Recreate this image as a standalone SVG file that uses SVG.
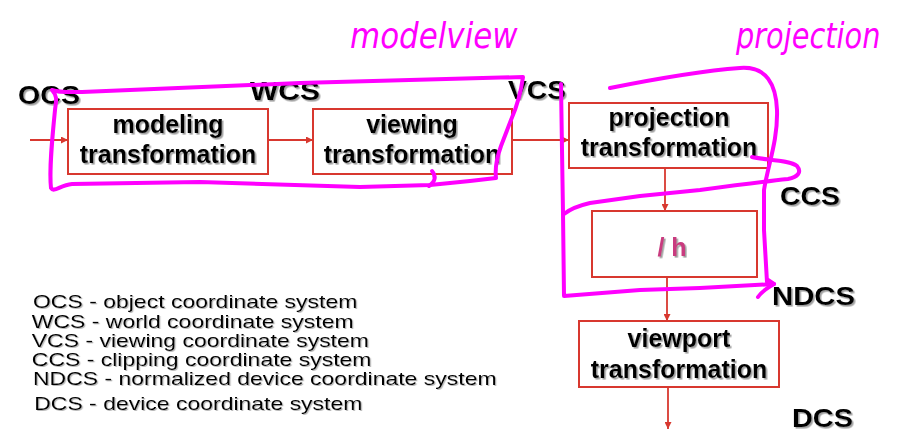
<svg xmlns="http://www.w3.org/2000/svg" width="905" height="432" viewBox="0 0 905 432">
<style>
.box{fill:#fff;stroke:#d8382f;stroke-width:2}
.bt{font-family:"Liberation Sans",Arial,sans-serif;font-weight:bold;font-size:25px;fill:#000;text-anchor:middle;filter:url(#sh)}
.lab{font-family:"Liberation Sans",Arial,sans-serif;font-weight:bold;font-size:25px;fill:#000;filter:url(#sh)}
.leg{font-family:"Liberation Sans",Arial,sans-serif;font-size:19px;fill:#000;filter:url(#sh2)}
.con{stroke:#d8382f;stroke-width:1.8;fill:none;marker-end:url(#ah)}
.mg{stroke:#ff00ff;stroke-width:4;fill:none;stroke-linecap:round;stroke-linejoin:round}
.hw{font-family:"DejaVu Sans",sans-serif;font-style:italic;font-size:36px;fill:#ff00ff}
</style>
<defs>
<filter id="sh" x="-10%" y="-20%" width="130%" height="150%">
<feDropShadow dx="1.6" dy="1.6" stdDeviation="0.7" flood-color="#777" flood-opacity="0.7"/>
</filter>
<filter id="sh2" x="-5%" y="-20%" width="120%" height="150%">
<feDropShadow dx="1" dy="1" stdDeviation="0.6" flood-color="#888" flood-opacity="0.6"/>
</filter>
<marker id="ah" viewBox="0 0 10 10" refX="10" refY="5" markerWidth="8" markerHeight="7" markerUnits="userSpaceOnUse" orient="auto">
<path d="M0,0 L10,5 L0,10 Z" fill="#d8382f"/>
</marker>
</defs>
<rect width="905" height="432" fill="#fff"/>

<g id="connectors">
<line class="con" x1="30" y1="140" x2="68" y2="140"/>
<line class="con" x1="268" y1="140" x2="313" y2="140"/>
<line class="con" x1="512" y1="140" x2="569" y2="140"/>
<line class="con" x1="665" y1="168" x2="665" y2="211"/>
<line class="con" x1="667" y1="277" x2="667" y2="321"/>
<line class="con" x1="668" y1="387" x2="668" y2="429"/>
</g>

<g id="modeling">
<rect class="box" x="68" y="109" width="200" height="65"/>
<text class="bt" x="168" y="133">modeling</text>
<text class="bt" x="168" y="163">transformation</text>
</g>
<g id="viewing">
<rect class="box" x="313" y="109" width="199" height="65"/>
<text class="bt" x="412" y="133">viewing</text>
<text class="bt" x="412" y="163">transformation</text>
</g>
<g id="projection">
<rect class="box" x="569" y="103" width="199" height="65"/>
<text class="bt" x="669" y="126">projection</text>
<text class="bt" x="669" y="156">transformation</text>
</g>
<g id="divh">
<rect class="box" x="592" y="211" width="165" height="66"/>
<text class="bt" x="672" y="256" style="fill:#c93a7f">/ h</text>
</g>
<g id="viewport">
<rect class="box" x="579" y="321" width="200" height="66"/>
<text class="bt" x="679" y="347">viewport</text>
<text class="bt" x="679" y="378">transformation</text>
</g>

<g id="labels">
<text class="lab" x="18" y="104" textLength="62" lengthAdjust="spacingAndGlyphs">OCS</text>
<text class="lab" x="250" y="100" textLength="70" lengthAdjust="spacingAndGlyphs">WCS</text>
<text class="lab" x="508" y="99" textLength="58" lengthAdjust="spacingAndGlyphs">VCS</text>
<text class="lab" x="780" y="205" textLength="60" lengthAdjust="spacingAndGlyphs">CCS</text>
<text class="lab" x="772" y="305" textLength="83" lengthAdjust="spacingAndGlyphs">NDCS</text>
<text class="lab" x="792" y="427" textLength="61" lengthAdjust="spacingAndGlyphs">DCS</text>
</g>

<g id="legend" transform="translate(33,0) scale(1.21,1)">
<text class="leg" x="0" y="308">OCS - object coordinate system</text>
<text class="leg" x="-1" y="328">WCS - world coordinate system</text>
<text class="leg" x="-1" y="347">VCS - viewing coordinate system</text>
<text class="leg" x="-1" y="366">CCS - clipping coordinate system</text>
<text class="leg" x="0" y="385">NDCS - normalized device coordinate system</text>
<text class="leg" x="1" y="410">DCS - device coordinate system</text>
</g>

<g id="annotations">
<path class="mg" d="M52,90 C62,93 72,92 82,92 L300,83 L523,77 C521,92 518,104 511,120 L501,146 C496,160 495,170 496,178 L470,181 L430,185 L360,187 L200,182 L72,184 C60,185 54,193 51,188 C49,170 52,140 55,110 C56,101 58,97 52,90"/>
<path class="mg" d="M429,186 C436,181 436,176 432,171"/>
<path class="mg" d="M610,88 C650,80 700,71 740,68 C767,66 776,85 777,110 C778,140 768,165 764,190 L764,230 L767,282"/>
<path class="mg" d="M561,84 L562,150 L563,213 L564,296 L640,290 L700,288 L774,284"/>
<path class="mg" d="M758,297 C762,291 767,288 774,284 M768,280 L774,284"/>
<path class="mg" d="M752,157 C765,160 790,160 797,166 C802,172 798,177 788,179 C760,182 730,186 700,190 L640,196 L590,203 C577,206 569,210 564,214"/>
<text class="hw" transform="translate(350,48) scale(0.86,1)">modelview</text>
<text class="hw" transform="translate(736,48) scale(0.8,1)">projection</text>
</g>
</svg>
